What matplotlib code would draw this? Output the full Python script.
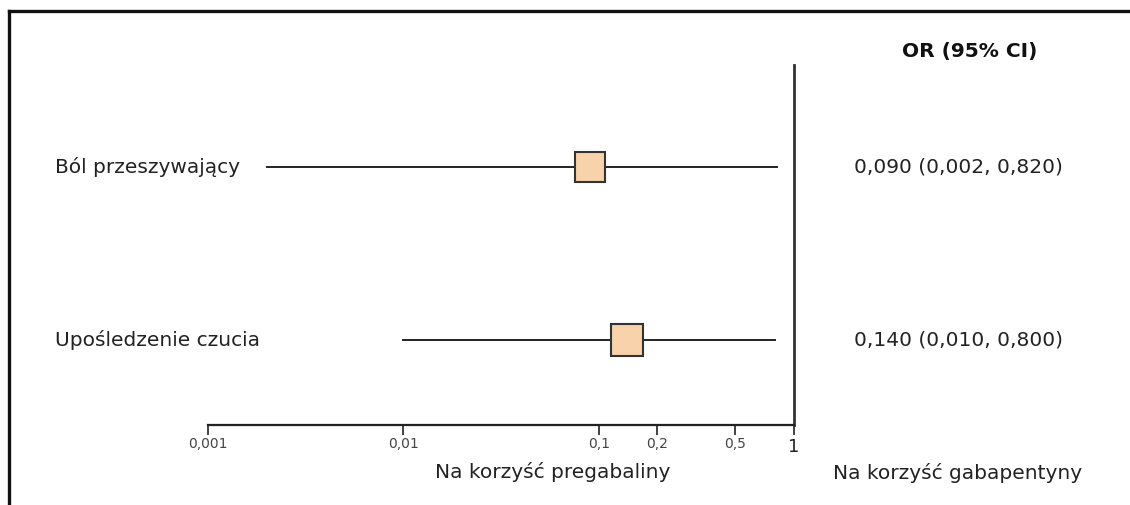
import matplotlib
matplotlib.use("Agg")
import matplotlib.pyplot as plt
from matplotlib.lines import Line2D
from matplotlib.transforms import blended_transform_factory

# data
outcomes = ["Ból przeszywający", "Upośledzenie czucia"]
odds_ratio = [0.090, 0.140]
ci_low = [0.002, 0.010]
ci_high = [0.820, 0.800]
or_labels = ["0,090 (0,002, 0,820)", "0,140 (0,010, 0,800)"]
tick_values = [0.001, 0.01, 0.1, 0.2, 0.5]
tick_labels = ["0,001", "0,01", "0,1", "0,2", "0,5"]

W, H = 1130, 505
fig = plt.figure(figsize=(W / 100, H / 100), dpi=100)
fig.patch.set_facecolor("white")

# plot area: x from 0.001 (208 px) to 1 (794 px), y from 65 px to 425 px
ax = fig.add_axes([208 / W, 1 - 425 / H, (794 - 208) / W, (425 - 65) / H])
ax.set_xscale("log")
ax.set_xlim(0.001, 1)
rows = list(range(len(outcomes)))
ax.set_ylim(1 + 85 / 173, -102 / 173)
ax.patch.set_alpha(0)

for s in ["top", "left"]:
    ax.spines[s].set_visible(False)
ax.spines["bottom"].set_linewidth(1.6)
ax.spines["bottom"].set_color("#222222")
ax.spines["right"].set_linewidth(2.0)
ax.spines["right"].set_color("#333333")

ax.set_xticks(tick_values + [1])
ax.set_xticklabels(tick_labels + ["1"])
ax.minorticks_off()
ax.tick_params(axis="x", direction="out", length=7, width=1.3, color="#333333",
               labelsize=10, labelcolor="#444444", pad=2)
lbl_one = ax.get_xticklabels()[-1]
lbl_one.set_fontsize(13)
lbl_one.set_color("#222222")
ax.set_yticks([])

marker_sizes = [21, 23]
for r, o, lo, hi, ms in zip(rows, odds_ratio, ci_low, ci_high, marker_sizes):
    ax.plot([lo, hi], [r, r], color="#222222", lw=1.4, zorder=2)
    ax.plot([o], [r], marker="s", ms=ms, markerfacecolor="#F8D2AA",
            markeredgecolor="#333333", markeredgewidth=1.5, zorder=3)

# left labels and right-hand OR column
tr = blended_transform_factory(fig.transFigure, ax.transData)
for r, name, txt in zip(rows, outcomes, or_labels):
    ax.text(55 / W, r, name, transform=tr, ha="left", va="center",
            fontsize=14.5, color="#222222")
    ax.text(958 / W, r, txt, transform=tr, ha="center", va="center",
            fontsize=14.5, color="#222222")

fig.text(970 / W, 1 - 52 / H, "OR (95% CI)", ha="center", va="center",
         fontsize=14.5, fontweight="bold", color="#111111")
fig.text(553 / W, 1 - 472 / H, "Na korzyść pregabaliny", ha="center", va="center",
         fontsize=14.5, color="#222222")
fig.text(958 / W, 1 - 473 / H, "Na korzyść gabapentyny", ha="center", va="center",
         fontsize=14.5, color="#222222")

# outer frame (top and left edges)
fig.add_artist(Line2D([9 / W, 1], [1 - 11 / H, 1 - 11 / H], transform=fig.transFigure,
                      color="#111111", lw=2.4))
fig.add_artist(Line2D([9 / W, 9 / W], [0, 1 - 11 / H], transform=fig.transFigure,
                      color="#111111", lw=2.4))

fig.savefig("out.png", dpi=100, facecolor="white")
